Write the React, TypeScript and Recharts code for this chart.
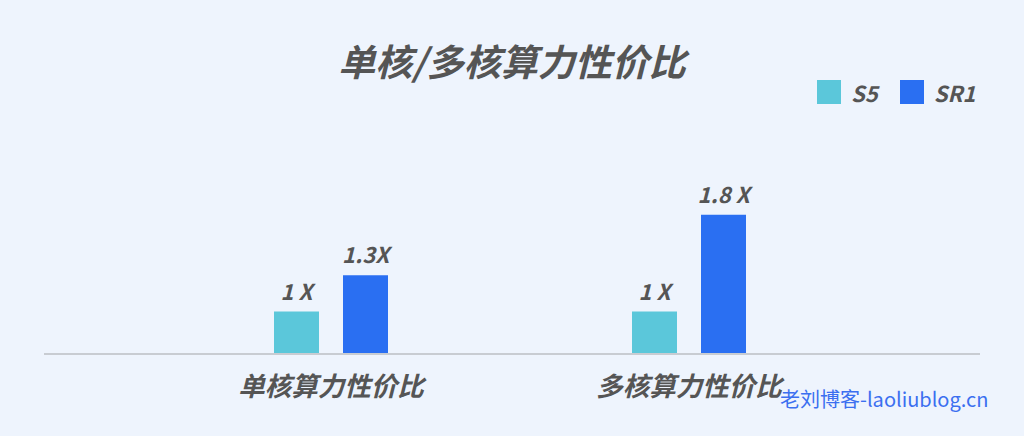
import { BarChart, Bar, XAxis, YAxis, LabelList, Legend } from "recharts";

const categories = ["单核算力性价比", "多核算力性价比"];
const s5Values = [1, 1];
const sr1Values = [1.3, 1.8];
const s5Labels = ["1 X", "1 X"];
const sr1Labels = ["1.3X", "1.8 X"];

const S5_COLOR = "#5bc7da";
const SR1_COLOR = "#2a6ff2";
const TEXT = "#555555";
const FONT = '"Noto Sans CJK SC", "Noto Sans", sans-serif';

const data = categories.map((name, i) => ({
  name,
  S5: s5Values[i],
  SR1: sr1Values[i],
  s5Label: s5Labels[i],
  sr1Label: sr1Labels[i],
}));

const CategoryTick = ({ x, y, payload }: any) => (
  <text
    x={x}
    y={y + 34}
    textAnchor="middle"
    fill={TEXT}
    fontSize={26.5}
    fontWeight={600}
    fontStyle="italic"
    fontFamily={FONT}
  >
    {payload.value}
  </text>
);

const LegendContent = ({ payload }: any) => (
  <div style={{ display: "flex", alignItems: "center", fontFamily: FONT }}>
    {(payload || []).map((p: any) => (
      <div key={p.value} style={{ display: "flex", alignItems: "center", marginRight: 22 }}>
        <div style={{ width: 24, height: 24, background: p.color, marginRight: 10 }} />
        <span style={{ color: TEXT, fontSize: 22, fontStyle: "italic", fontWeight: 600 }}>
          {p.value}
        </span>
      </div>
    ))}
  </div>
);

export default function App() {
  return (
    <div
      style={{
        position: "fixed",
        left: 0,
        top: 0,
        width: 1024,
        height: 436,
        background: "#eef4fd",
        fontFamily: FONT,
        overflow: "hidden",
      }}
    >
      <div
        style={{
          position: "absolute",
          top: 35,
          left: 0,
          width: 1024,
          textAlign: "center",
          fontSize: 37,
          fontWeight: 600,
          fontStyle: "italic",
          color: TEXT,
          lineHeight: "50px",
        }}
      >
        单核/多核算力性价比
      </div>

      <BarChart
        width={1024}
        height={436}
        data={data}
        margin={{ top: 148, right: 44, bottom: 52, left: 44 }}
        barSize={45}
        barGap={24}
      >
        <XAxis
          dataKey="name"
          height={30}
          padding={{ left: 108, right: 112 }}
          axisLine={{ stroke: "#c8ccd2", strokeWidth: 2 }}
          tickLine={false}
          tick={<CategoryTick />}
        />
        <YAxis hide domain={[0.65, 2.35]} />
        <Legend
          layout="horizontal"
          verticalAlign="middle"
          align="center"
          content={<LegendContent />}
          wrapperStyle={{ position: "absolute", top: 76, left: 817, width: 200, height: 24 }}
        />
        <Bar dataKey="S5" fill={S5_COLOR} isAnimationActive={false}>
          <LabelList
            dataKey="s5Label"
            position="top"
            offset={12}
            fill={TEXT}
            fontSize={22}
            fontWeight={600}
            fontStyle="italic"
            fontFamily={FONT}
          />
        </Bar>
        <Bar dataKey="SR1" fill={SR1_COLOR} isAnimationActive={false}>
          <LabelList
            dataKey="sr1Label"
            position="top"
            offset={12}
            fill={TEXT}
            fontSize={22}
            fontWeight={600}
            fontStyle="italic"
            fontFamily={FONT}
          />
        </Bar>
      </BarChart>

      <div
        style={{
          position: "absolute",
          left: 780,
          top: 386,
          fontSize: 20,
          color: "#3b6ff0",
          whiteSpace: "nowrap",
          lineHeight: "26px",
        }}
      >
        老刘博客-laoliublog.cn
      </div>
    </div>
  );
}
